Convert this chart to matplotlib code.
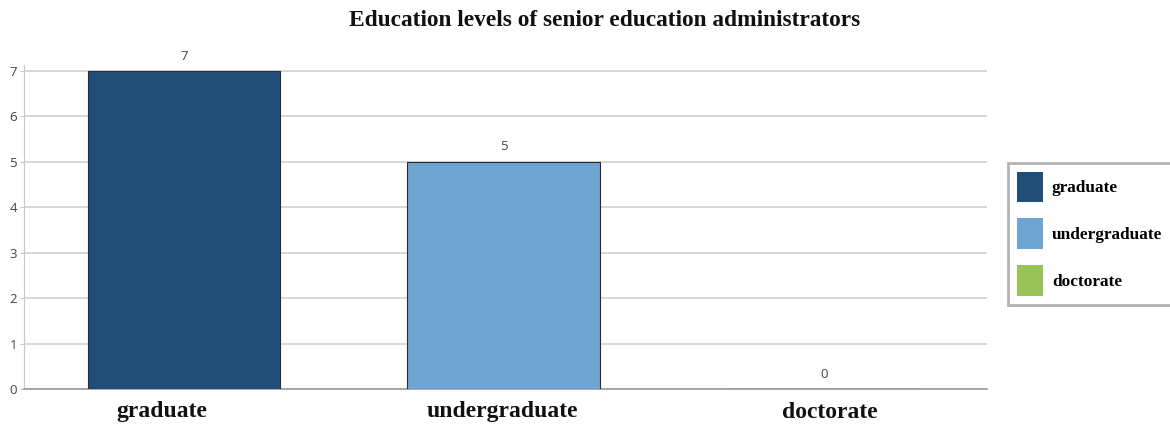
import matplotlib
matplotlib.use("Agg")
import matplotlib.pyplot as plt
from matplotlib.transforms import ScaledTranslation

categories = ["graduate", "undergraduate", "doctorate"]
values = [7, 5, 0]
colors = ["#1F4E79", "#6FA5D2", "#97C459"]
yticks = [0, 1, 2, 3, 4, 5, 6, 7]
title = "Education levels of senior education administrators"

fig = plt.figure(figsize=(11.7, 4.28), dpi=100)
ax = fig.add_axes([24/1170, 1-389/428, (987-24)/1170, (389-65)/428])

x = list(range(len(categories)))
bars = ax.bar(x, values, width=0.603, color=colors, edgecolor="#2a2a2a", linewidth=0.8, zorder=3)

ax.set_xlim(-0.5, 2.51)
ax.set_ylim(0, 7.13)
ax.set_yticks(yticks)
ax.set_yticklabels([str(t) for t in yticks], fontsize=9.5, color="#444444", family="Open Sans")
ax.tick_params(axis="y", length=3, color="#c8c8c8", pad=2)
ax.set_xticks(x)
ax.set_xticklabels(categories, fontsize=17, fontweight="bold", family="Liberation Serif", color="#111111")
ax.tick_params(axis="x", length=0, pad=9)
# small horizontal shifts of category labels as in the reference
for lbl, dx in zip(ax.get_xticklabels(), [-22, -2, 6]):
    lbl.set_transform(lbl.get_transform() + ScaledTranslation(dx/100, 0, fig.dpi_scale_trans))
ax.grid(axis="y", color="#d0d0d0", linewidth=1.2, zorder=0)
for s in ["top", "right"]:
    ax.spines[s].set_visible(False)
ax.spines["left"].set_color("#c8c8c8")
ax.spines["bottom"].set_color("#999999")
ax.spines["bottom"].set_linewidth(1.2)

for xi, v in zip(x, values):
    ax.annotate(str(v), (xi, v), xytext=(0, 6), textcoords="offset points",
                ha="center", va="bottom", fontsize=9.5, color="#444444", family="Open Sans")

fig.text(605/1170, 1-21/428, title, ha="center", va="center", fontsize=16.8,
         fontweight="bold", family="Liberation Serif", color="#111111")

leg = fig.legend(bars.patches, categories, loc="upper left",
                 bbox_to_anchor=(1008/1170, 1-163/428), frameon=True,
                 prop={"family": "Liberation Serif", "weight": "bold", "size": 12.4},
                 handlelength=1.55, handleheight=2.35, labelspacing=0.95,
                 handletextpad=0.5, borderpad=0.5, borderaxespad=0, fancybox=False)
leg.get_frame().set_edgecolor("#a0a0a0")
leg.get_frame().set_linewidth(2)
for h in leg.legend_handles:
    h.set_edgecolor("none")

fig.savefig("out.png", dpi=100)
